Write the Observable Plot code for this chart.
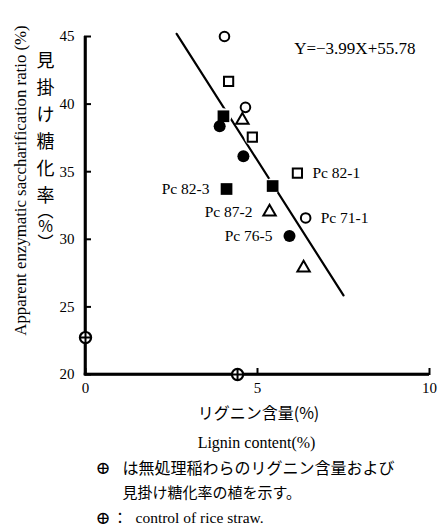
<!DOCTYPE html>
<html>
<head>
<meta charset="utf-8">
<script src="https://cdn.jsdelivr.net/npm/d3@7"></script>
<script src="https://cdn.jsdelivr.net/npm/@observablehq/plot@0.6"></script>
<style>
  body { margin: 0; background: #fff; }
</style>
</head>
<body>
<div id="wrap"></div>
<script>
// ---- data ----
const xTicks = [0, 5, 10];
const yTicks = [20, 25, 30, 35, 40, 45];

const strainNames = ["Pc 82-1", "Pc 82-3", "Pc 87-2", "Pc 71-1", "Pc 76-5"];

// Pc 82-1 (open square)
const pc821Lignin = [4.16, 4.85, 6.16];
const pc821Ratio  = [41.68, 37.55, 34.90];
// Pc 82-3 (filled square)
const pc823Lignin = [4.01, 4.10, 5.44];
const pc823Ratio  = [39.10, 33.72, 33.94];
// Pc 87-2 (open triangle)
const pc872Lignin = [4.56, 5.35, 6.34];
const pc872Ratio  = [38.81, 32.02, 27.89];
// Pc 71-1 (open circle)
const pc711Lignin = [4.04, 4.65, 6.40];
const pc711Ratio  = [45.0, 39.76, 31.58];
// Pc 76-5 (filled circle)
const pc765Lignin = [3.90, 4.59, 5.93];
const pc765Ratio  = [38.36, 36.15, 30.25];

// untreated rice straw control, marked on the axes
const controlLignin = [0, 4.42];
const controlRatio  = [22.73, 20];

// which point of each strain carries its name
const labelIndex = [2, 1, 1, 2, 2];

// regression line  Y = -3.99X + 55.78, drawn between these ends
const fitLignin = [2.65, 7.5];
const fitRatio  = [45.2, 25.85];

// texts
const equationText = "Y=−3.99X+55.78";
const yTitleEn = "Apparent enzymatic saccharification ratio (%)";
const yTitleJa = "見\n掛\nけ\n糖\n化\n率";
const yTitleJaUnit = "︵\n%\n︶";
const xTitleJa = "リグニン含量(%)";
const xTitleEn = "Lignin content(%)";
const controlSign = "⊕";
const noteJa1 = "は無処理稲わらのリグニン含量および";
const noteJa2 = "見掛け糖化率の植を示す。";
const noteColon = "：";
const noteEn = "control of rice straw.";

// ---- tables ----
const toRows = (xs, ys) => xs.map((x, i) => ({x, y: ys[i]}));
const pc821 = toRows(pc821Lignin, pc821Ratio);
const pc823 = toRows(pc823Lignin, pc823Ratio);
const pc872 = toRows(pc872Lignin, pc872Ratio);
const pc711 = toRows(pc711Lignin, pc711Ratio);
const pc765 = toRows(pc765Lignin, pc765Ratio);
const control = toRows(controlLignin, controlRatio);
const fit = toRows(fitLignin, fitRatio);
const seriesList = [pc821, pc823, pc872, pc711, pc765];
const labels = strainNames.map((name, i) => ({name, ...seriesList[i][labelIndex[i]]}));
const rightSide = new Set(["Pc 82-1", "Pc 71-1"]);
const labelsRight = labels.filter(d => rightSide.has(d.name));
const labelsLeft = labels.filter(d => !rightSide.has(d.name));
const allPoints = seriesList.flat();
const xMin = xTicks[0], xMax = xTicks[xTicks.length - 1];
const yMin = yTicks[0], yMax = yTicks[yTicks.length - 1];
const axisLeft = [{x1: xMin, x2: xMin, y1: yMin, y2: yMax}];
const axisBottom = [{x1: xMin, x2: xMax, y1: yMin, y2: yMin}];

const serif = "'Liberation Serif', 'DejaVu Serif', serif";
const jp = "'Noto Sans CJK JP', sans-serif";

const note = (t, o) => Plot.text([t], {lineAnchor: "middle", fill: "black", ...o});

const chart = Plot.plot({
  width: 439,
  height: 532,
  marginLeft: 85,
  marginRight: 10,
  marginTop: 36,
  marginBottom: 158,
  style: {fontFamily: serif, fontSize: "15px"},
  x: {domain: [xMin, xMax]},
  y: {domain: [yMin, yMax]},
  marks: [
    // axis lines
    Plot.rect(axisLeft, {x1: "x1", x2: "x2", y1: "y1", y2: "y2", insetLeft: -1.3, insetRight: -1.3, insetBottom: -1.3, fill: "black"}),
    Plot.rect(axisBottom, {x1: "x1", x2: "x2", y1: "y1", y2: "y2", insetTop: -1.3, insetBottom: -1.3, insetLeft: -1.3, fill: "black"}),
    Plot.ruleX([xMin], {stroke: "black", strokeWidth: 2.5}),
    Plot.ruleY([yMin], {stroke: "black", strokeWidth: 2.5}),
    // tick labels
    Plot.axisY({ticks: yTicks, tickSize: 0, tickPadding: 11, label: null, fontSize: 15, fill: "black"}),
    Plot.axisX({ticks: xTicks, tickSize: 0, tickPadding: 8, label: null, fontSize: 15, fill: "black"}),
    // inward tick marks
    Plot.axisY({ticks: yTicks, tickSize: 7, dx: 6, tickFormat: () => "", stroke: "black", strokeWidth: 2, label: null}),
    Plot.axisX({ticks: xTicks, tickSize: 7, dy: -6, tickFormat: () => "", stroke: "black", strokeWidth: 2, label: null}),
    // fit line
    Plot.line(fit, {x: "x", y: "y", stroke: "black", strokeWidth: 2.2}),
    // white halos cutting the fit line around markers
    Plot.dot(allPoints, {x: "x", y: "y", r: 8, fill: "white", stroke: "none"}),
    Plot.dot(pc821, {x: "x", y: "y", symbol: "square", r: 5.2, fill: "white", stroke: "black", strokeWidth: 2}),
    Plot.dot(pc823, {x: "x", y: "y", symbol: "square", r: 6.6, fill: "black", stroke: "none"}),
    Plot.dot(pc872, {x: "x", y: "y", symbol: "triangle", r: 4.6, fill: "white", stroke: "black", strokeWidth: 2}),
    Plot.dot(pc711, {x: "x", y: "y", symbol: "circle", r: 4.8, fill: "white", stroke: "black", strokeWidth: 2}),
    Plot.dot(pc765, {x: "x", y: "y", symbol: "circle", r: 6, fill: "black", stroke: "none"}),
    Plot.dot(control, {x: "x", y: "y", symbol: "circle", r: 5.6, fill: "white", stroke: "black", strokeWidth: 2.2}),
    Plot.dot(control, {x: "x", y: "y", symbol: "plus", r: 4, stroke: "black", strokeWidth: 2}),
    // strain labels
    Plot.text(labelsRight, {x: "x", y: "y", text: "name", textAnchor: "start", dx: 15, fontSize: 15.5, fontFamily: serif, fill: "black"}),
    Plot.text(labelsLeft, {x: "x", y: "y", text: "name", textAnchor: "end", dx: -17, fontSize: 15.5, fontFamily: serif, fill: "black"}),
    // equation
    note(equationText, {frameAnchor: "top-right", dx: -14, dy: 12, textAnchor: "end", fontSize: 17, fontFamily: serif}),
    // y titles
    note(yTitleEn, {frameAnchor: "left", textAnchor: "middle", rotate: -90, dx: -65, dy: -25, fontSize: 16.8, fontFamily: serif}),
    Plot.text([yTitleJa], {frameAnchor: "top-left", textAnchor: "middle", lineAnchor: "top", lineHeight: 1.5, dx: -40, dy: 11, fontSize: 18, fontFamily: jp, fill: "black"}),
    Plot.text([yTitleJaUnit], {frameAnchor: "top-left", textAnchor: "middle", lineAnchor: "top", lineHeight: 0.95, dx: -40, dy: 170, fontSize: 16, fontFamily: jp, fill: "black"}),
    // x titles
    note(xTitleJa, {frameAnchor: "bottom", dx: 1, dy: 39, fontSize: 16, fontFamily: jp}),
    note(xTitleEn, {frameAnchor: "bottom", dx: -1, dy: 68, fontSize: 16, fontFamily: serif}),
    // notes
    note(controlSign, {frameAnchor: "bottom-left", textAnchor: "start", dx: 10, dy: 94, fontSize: 18, fontFamily: serif}),
    note(noteJa1, {frameAnchor: "bottom-left", textAnchor: "start", dx: 37, dy: 94, fontSize: 16, fontFamily: jp}),
    note(noteJa2, {frameAnchor: "bottom-left", textAnchor: "start", dx: 37, dy: 119, fontSize: 15, fontFamily: jp}),
    note(controlSign, {frameAnchor: "bottom-left", textAnchor: "start", dx: 10, dy: 144, fontSize: 18, fontFamily: serif}),
    note(noteColon, {frameAnchor: "bottom-left", textAnchor: "start", dx: 27, dy: 144, fontSize: 15, fontFamily: jp}),
    note(noteEn, {frameAnchor: "bottom-left", textAnchor: "start", dx: 50, dy: 144, fontSize: 15.5, fontFamily: serif})
  ]
});

document.getElementById("wrap").appendChild(chart);
</script>
</body>
</html>
